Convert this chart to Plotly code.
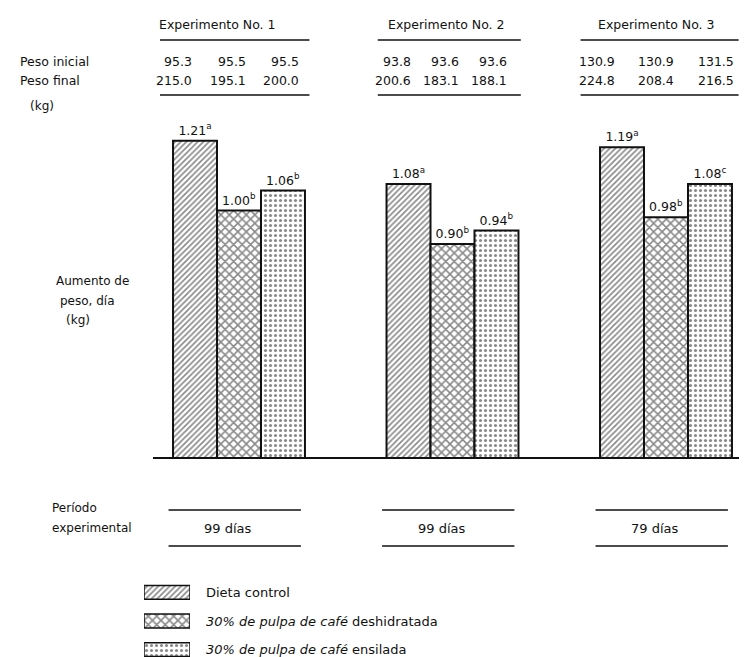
import plotly.graph_objects as go

# ---------------- data ----------------
experiments = ["Experimento No. 1", "Experimento No. 2", "Experimento No. 3"]
series_names = ["Dieta control",
                "30% de pulpa de café deshidratada",
                "30% de pulpa de café ensilada"]
series_legend = ["Dieta control",
                 "<i>30% de pulpa de café</i> deshidratada",
                 "<i>30% de pulpa de café</i> ensilada"]
gain_control = [1.21, 1.08, 1.19]
gain_dehydrated = [1.00, 0.90, 0.98]
gain_silage = [1.06, 0.94, 1.08]
sig_control = ["a", "a", "a"]
sig_dehydrated = ["b", "b", "b"]
sig_silage = ["b", "b", "c"]
peso_inicial = [[95.3, 95.5, 95.5], [93.8, 93.6, 93.6], [130.9, 130.9, 131.5]]
peso_final = [[215.0, 195.1, 200.0], [200.6, 183.1, 188.1], [224.8, 208.4, 216.5]]
periodo_dias = [99, 99, 79]

# ---------------- styling ----------------
W, H = 747, 657
FONT = "DejaVu Sans"
BLACK = "#111111"
patterns = [dict(shape="/", size=4, solidity=0.4),
            dict(shape="x", size=6, solidity=0.45),
            dict(shape=".", size=5, solidity=0.3)]


def py(p):
    return (H - p) / H


def pxx(p):
    return p / W


fig = go.Figure()

series_vals = [gain_control, gain_dehydrated, gain_silage]
series_sig = [sig_control, sig_dehydrated, sig_silage]
for name, vals, sig, pat in zip(series_names, series_vals, series_sig, patterns):
    fig.add_trace(go.Bar(
        x=experiments, y=vals, name=name,
        text=[f"{v:.2f}<sup>{s}</sup>" for v, s in zip(vals, sig)],
        textposition="outside", constraintext="none", textangle=0,
        textfont=dict(family=FONT, size=12.5, color=BLACK),
        marker=dict(color="white",
                    line=dict(color=BLACK, width=2),
                    pattern=dict(fgcolor=BLACK, bgcolor="white",
                                 fillmode="overlay", **pat)),
        showlegend=False, hoverinfo="skip",
    ))

# legend swatches (custom legend on secondary axes)
fig.add_trace(go.Bar(
    x=[1, 1, 1], y=series_names, orientation="h",
    xaxis="x2", yaxis="y2", width=0.48,
    marker=dict(color="white", line=dict(color=BLACK, width=1.5),
                pattern=dict(shape=[p["shape"] for p in patterns],
                             size=[p["size"] for p in patterns],
                             solidity=[p["solidity"] for p in patterns],
                             fgcolor=BLACK, bgcolor="white",
                             fillmode="overlay")),
    showlegend=False, hoverinfo="skip",
))

# axes geometry (pixels)
x_left_px, g0_px, step_px = 145, 231, 213.5
base_px, top_px = 449, 105
y0 = 0.26
px_per_unit = 333
fig.update_layout(
    width=W, height=H,
    margin=dict(l=0, r=0, t=0, b=0),
    paper_bgcolor="white", plot_bgcolor="white",
    barmode="group", bargap=0.382, bargroupgap=0,
    font=dict(family=FONT, size=12, color=BLACK),
    xaxis=dict(domain=[pxx(x_left_px), 1],
               range=[(x_left_px - g0_px) / step_px, (W - g0_px) / step_px],
               showline=True, linecolor=BLACK, linewidth=2,
               showticklabels=False, ticks="", showgrid=False, zeroline=False),
    yaxis=dict(domain=[py(base_px), py(top_px)],
               range=[y0, y0 + (base_px - top_px) / px_per_unit],
               visible=False, showgrid=False),
    xaxis2=dict(domain=[pxx(136), pxx(182)], range=[0, 1], visible=False,
                anchor="y2"),
    yaxis2=dict(domain=[py(656), py(570)], autorange="reversed",
                visible=False, anchor="x2"),
)

ann = []
shapes = []


def txt(x, y, text, size=12, xanchor="left", xref="paper", yref="paper", xshift=0):
    ann.append(dict(x=x, y=y, xref=xref, yref=yref, text=text,
                    xanchor=xanchor, yanchor="middle", xshift=xshift,
                    showarrow=False, font=dict(size=size)))


def hline(k, left, right, ypx):
    shapes.append(dict(type="line", xref="x", yref="paper",
                       x0=k + left, x1=k + right, y0=py(ypx), y1=py(ypx),
                       line=dict(color=BLACK, width=1.5)))


header_shift = [-22, -6, -10]
col_right = [[-45, 9, 62], [-40, 8, 56], [-49, 10, 70]]
line_ext = [(-0.37, 0.33), (-0.35, 0.32), (-0.40, 0.34)]
for k, exp in enumerate(experiments):
    txt(exp, py(16), exp, size=12.5, xanchor="center", xref="x",
        xshift=header_shift[k])
    for j in range(3):
        txt(exp, py(53), f"{peso_inicial[k][j]:.1f}", size=12.5,
            xanchor="right", xref="x", xshift=col_right[k][j])
        txt(exp, py(72), f"{peso_final[k][j]:.1f}", size=12.5,
            xanchor="right", xref="x", xshift=col_right[k][j])
    hline(k, line_ext[k][0], line_ext[k][1], 32)
    hline(k, line_ext[k][0], line_ext[k][1], 87)
    # experimental period
    txt(exp, py(520), f"{periodo_dias[k]} días", size=13, xanchor="center",
        xref="x", xshift=-11)
    hline(k, -0.33, 0.29, 502)
    hline(k, -0.33, 0.29, 538)

txt(pxx(10), py(53), "Peso inicial", size=12.5)
txt(pxx(10), py(72), "Peso final", size=12.5)
txt(pxx(20), py(98), "(kg)", size=12)
txt(pxx(46), py(273), "Aumento de", size=12)
txt(pxx(50), py(293), "peso, día", size=12)
txt(pxx(56), py(312), "(kg)", size=12)
txt(pxx(42), py(500), "Período", size=12)
txt(pxx(42), py(520), "experimental", size=12)
for i, lab in enumerate(series_legend):
    ann.append(dict(x=pxx(196), y=series_names[i], xref="paper", yref="y2",
                    text=lab, xanchor="left", yanchor="middle",
                    showarrow=False, font=dict(size=13)))

fig.update_layout(annotations=ann, shapes=shapes)
fig.write_html("out.html")
